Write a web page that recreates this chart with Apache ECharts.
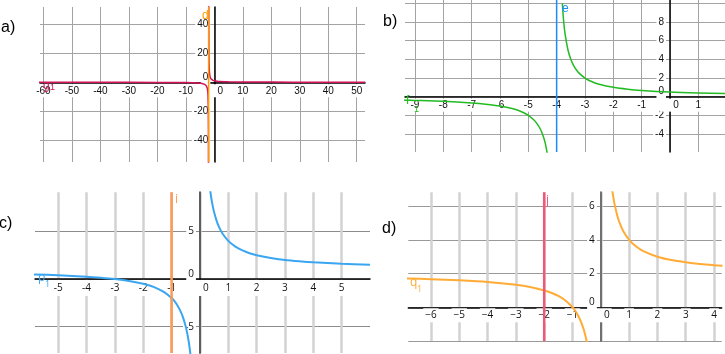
<!DOCTYPE html>
<html>
<head>
<meta charset="utf-8">
<script src="https://cdn.jsdelivr.net/npm/echarts@6/dist/echarts.min.js"></script>
<style>
  html, body { margin: 0; padding: 0; background: #fff; }
  #chart { width: 725px; height: 354px; }
</style>
</head>
<body>
<div id="chart"></div>
<script>
// a) g1 with asymptote d
const aXTicks = [-60, -50, -40, -30, -20, -10, 0, 10, 20, 30, 40, 50];
const aYTicks = [-40, -20, 0, 20, 40];
const aAsymX = -2;
const aCurveLeft = [[-62, -0.03], [-40, -0.05], [-20, -0.11], [-10, -0.25], [-6, -0.5], [-4, -1], [-3, -2], [-2.5, -4], [-2.3, -6.7], [-2.2, -10], [-2.1, -20], [-2.05, -40], [-2.03, -66]];
const aCurveRight = [[-1.97, 66], [-1.95, 40], [-1.9, 20], [-1.8, 10], [-1.6, 5], [-1.4, 3.3], [-1, 2], [-0.5, 1.33], [0, 1], [1, 0.67], [2, 0.5], [5, 0.29], [10, 0.17], [20, 0.09], [35, 0.05], [53, 0.036]];

// b) f1 with asymptote e
const bXTicks = [-9, -8, -7, -6, -5, -4, -3, -2, -1, 0, 1];
const bYTicks = [-4, -2, 0, 2, 4, 6, 8, 10];
const bYLabels = [-4, -2, 0, 2, 4, 6, 8];
const bAsymX = -4;
const bCurveLeft = [[-9.4, -0.37], [-9, -0.4], [-8, -0.5], [-7, -0.67], [-6.5, -0.8], [-6, -1], [-5.5, -1.33], [-5.2, -1.67], [-5, -2], [-4.8, -2.5], [-4.7, -2.86], [-4.6, -3.33], [-4.5, -4], [-4.4, -5], [-4.3, -6.67], [-4.25, -8]];
const bCurveRight = [[-3.8, 10], [-3.75, 8], [-3.7, 6.67], [-3.6, 5], [-3.5, 4], [-3.4, 3.33], [-3.3, 2.86], [-3.2, 2.5], [-3, 2], [-2.75, 1.6], [-2.5, 1.33], [-2, 1], [-1.5, 0.8], [-1, 0.67], [0, 0.5], [1, 0.4], [2, 0.33]];

// c) p1 with line i
const cXTicks = [-5, -4, -3, -2, -1, 0, 1, 2, 3, 4, 5];
const cYTicks = [-5, 0, 5];
const cAsymX = -1;
const cCurveLeft = [[-5.9, 0.49], [-5, 0.4], [-4, 0.25], [-3.5, 0.14], [-3, 0], [-2.5, -0.2], [-2, -0.5], [-1.75, -0.71], [-1.5, -1], [-1.25, -1.4], [-1, -2], [-0.9, -2.33], [-0.8, -2.75], [-0.7, -3.29], [-0.6, -4], [-0.5, -5], [-0.45, -5.67], [-0.4, -6.5], [-0.35, -7.57], [-0.32, -8.4]];
const cCurveRight = [[0.32, 10.4], [0.35, 9.57], [0.4, 8.5], [0.45, 7.67], [0.5, 7], [0.6, 6], [0.7, 5.29], [0.8, 4.75], [1, 4], [1.25, 3.4], [1.5, 3], [1.75, 2.71], [2, 2.5], [2.5, 2.2], [3, 2], [3.5, 1.86], [4, 1.75], [5, 1.6], [6, 1.5]];

// d) q1 with line j
const dXTicks = [-6, -5, -4, -3, -2, -1, 0, 1, 2, 3, 4];
const dYTicks = [-2, 0, 2, 4, 6];
const dYLabels = [0, 2, 4, 6];
const dAsymX = -2;
const dCurveLeft = [[-6.9, 1.71], [-6, 1.67], [-5, 1.6], [-4, 1.5], [-3, 1.33], [-2.5, 1.2], [-2, 1], [-1.75, 0.86], [-1.5, 0.67], [-1.25, 0.4], [-1, 0], [-0.9, -0.22], [-0.8, -0.5], [-0.7, -0.86], [-0.6, -1.33], [-0.5, -2], [-0.45, -2.44]];
const dCurveRight = [[0.28, 9.14], [0.3, 8.67], [0.35, 7.71], [0.4, 7], [0.45, 6.44], [0.5, 6], [0.6, 5.33], [0.7, 4.86], [0.8, 4.5], [1, 4], [1.25, 3.6], [1.5, 3.33], [2, 3], [2.5, 2.8], [3, 2.67], [3.5, 2.57], [4, 2.5], [4.3, 2.47]];

// panel frames: axis ranges as seen in the picture
const ranges = [
  { x: [-61.2, 52.9], y: [-55, 51.9] },
  { x: [-9.35, 1.94], y: [-5.93, 10.36] },
  { x: [-5.82, 6.0], y: [-7.76, 9.1] },
  { x: [-6.8, 4.27], y: [-2, 6.82] }
];
const grids = [
  { left: 40, top: 7, width: 325, height: 155 },
  { left: 405, top: 0, width: 320, height: 152 },
  { left: 35, top: 192.3, width: 335, height: 160.7 },
  { left: 408.3, top: 192.3, width: 313.4, height: 148.7 }
];

// look of each panel
const styles = [
  { font: 'Liberation Sans', vGrid: '#a3a3a3', vW: 1, hGrid: '#a3a3a3', hW: 1, xAxis: '#000', yAxis: '#000', yAxisW: 1.5, xPad: [1, 2, 1, 2], xMargin: 2, minus: '-' },
  { font: 'Liberation Sans', vGrid: '#a3a3a3', vW: 1, hGrid: '#a3a3a3', hW: 1, xAxis: '#000', yAxis: '#000', yAxisW: 1.5, xPad: [1, 2, 1, 2], xMargin: 2, minus: '-' },
  { font: 'Open Sans', vGrid: '#d2d2d2', vW: 2.5, hGrid: '#8c8c8c', hW: 1.2, xAxis: '#000', yAxis: '#5e5e5e', yAxisW: 2, xPad: [3, 2, 2, 2], xMargin: 1, minus: '-' },
  { font: 'Open Sans', vGrid: '#d2d2d2', vW: 2.5, hGrid: '#999', hW: 1.2, xAxis: '#000', yAxis: '#707070', yAxisW: 2, xPad: [1, 2, 2, 2], xMargin: 1, minus: '\u2212' }
];

function fmt(v, st) {
  return v < 0 ? st.minus + Math.abs(v) : String(v);
}

// move the axes (line + labels) onto the zero lines of each panel
function xOffset(i) {
  let r = ranges[i].y
  return -grids[i].height * (0 - r[0]) / (r[1] - r[0])
}
function yOffset(i) {
  let r = ranges[i].x
  return -grids[i].width * (0 - r[0]) / (r[1] - r[0])
}

function makeXAxis(i, ticks) {
  let st = styles[i]
  return {
    type: 'value', gridIndex: i, min: ranges[i].x[0], max: ranges[i].x[1],
    position: 'bottom', offset: xOffset(i),
    axisLine: { onZero: false, lineStyle: { color: st.xAxis, width: 1.5 } },
    axisTick: { show: false, customValues: ticks },
    splitLine: { show: true, lineStyle: { color: st.vGrid, width: st.vW } },
    axisLabel: {
      customValues: ticks,
      margin: st.xMargin,
      color: '#111', fontSize: 10, fontFamily: st.font, lineHeight: 11,
      backgroundColor: '#fff', padding: st.xPad,
      formatter: v => v === 0 ? '{z|0}' : fmt(v, st),
      rich: { z: { padding: [0, 0, 0, 12], fontSize: 10, fontFamily: st.font, color: '#111', lineHeight: 11 } }
    }
  }
}

function makeYAxis(i, ticks, labels) {
  let st = styles[i]
  return {
    type: 'value', gridIndex: i, min: ranges[i].y[0], max: ranges[i].y[1],
    position: 'left', offset: yOffset(i),
    axisLine: { onZero: false, lineStyle: { color: st.yAxis, width: st.yAxisW } },
    axisTick: { show: false, customValues: ticks },
    splitLine: { show: true, lineStyle: { color: st.hGrid, width: st.hW } },
    axisLabel: {
      customValues: labels,
      margin: 4,
      color: '#111', fontSize: 10, fontFamily: st.font, lineHeight: 11,
      backgroundColor: '#fff', padding: [1, 2, 1, 2],
      formatter: v => v === 0 ? '{z|0}' : fmt(v, st),
      rich: { z: { padding: [0, 0, 10, 0], fontSize: 10, fontFamily: st.font, color: '#111', lineHeight: 11 } }
    }
  }
}

function curve(i, data, color, w) {
  return {
    type: 'line', xAxisIndex: i, yAxisIndex: i, data: data,
    showSymbol: false, smooth: 0.3, clip: true, silent: true,
    lineStyle: { color: color, width: w }
  }
}

function vline(i, x, color, w) {
  return curve(i, [[x, ranges[i].y[0]], [x, ranges[i].y[1]]], color, w)
}

function txt(x, y, text, color, size, font) {
  return {
    type: 'text', x: x, y: y, silent: true, z: 100,
    style: { text: text, fill: color, font: size + 'px "' + (font || 'Liberation Sans') + '"', textVerticalAlign: 'middle', verticalAlign: 'middle' }
  }
}

let chart = echarts.init(document.getElementById('chart'), null, { renderer: 'canvas' })
let option = {
  animation: false,
  backgroundColor: '#fff',
  grid: grids.map(g => Object.assign({ outerBoundsMode: 'none' }, g)),
  xAxis: [
    makeXAxis(0, aXTicks),
    makeXAxis(1, bXTicks),
    makeXAxis(2, cXTicks),
    makeXAxis(3, dXTicks)
  ],
  yAxis: [
    makeYAxis(0, aYTicks, aYTicks),
    makeYAxis(1, bYTicks, bYLabels),
    makeYAxis(2, cYTicks, cYTicks),
    makeYAxis(3, dYTicks, dYLabels)
  ],
  series: [
    curve(0, aCurveLeft, '#d4145a', 1.5),
    curve(0, aCurveRight, '#d4145a', 1.5),
    vline(0, aAsymX, '#ff9900', 1.5),
    curve(1, bCurveLeft, '#22bb22', 1.5),
    curve(1, bCurveRight, '#22bb22', 1.5),
    vline(1, bAsymX, '#1a8cff', 1.5),
    curve(2, cCurveLeft, '#3aa6f2', 2),
    curve(2, cCurveRight, '#3aa6f2', 2),
    vline(2, cAsymX, '#ff9a55', 2.5),
    curve(3, dCurveLeft, '#ffab35', 2),
    curve(3, dCurveRight, '#ffab35', 2),
    vline(3, dAsymX, '#f0587a', 2.5)
  ],
  graphic: [
    // panel letters
    txt(1, 28, 'a)', '#000', 16),
    txt(383, 22, 'b)', '#000', 16),
    txt(-1, 224, 'c)', '#000', 16),
    txt(382, 229, 'd)', '#000', 16),
    // object names
    txt(202, 16, 'd', '#ff9900', 12),
    txt(43, 86, 'g', '#d4145a', 12),
    txt(50, 88, '1', '#d4145a', 9),
    txt(562, 9, 'e', '#1a8cff', 12),
    txt(406, 101, 'f', '#22bb22', 12),
    txt(414, 110, '1', '#22bb22', 9),
    txt(175, 200, 'i', '#ff9a55', 12, 'Open Sans'),
    txt(38, 278, 'p', '#3aa6f2', 12, 'Open Sans'),
    txt(45, 284, '1', '#3aa6f2', 9, 'Open Sans'),
    txt(546, 201, 'j', '#f0587a', 12, 'Open Sans'),
    txt(410, 283, 'q', '#ffab35', 12, 'Open Sans'),
    txt(417, 289, '1', '#ffab35', 9, 'Open Sans')
  ]
}
chart.setOption(option)
</script>
</body>
</html>
